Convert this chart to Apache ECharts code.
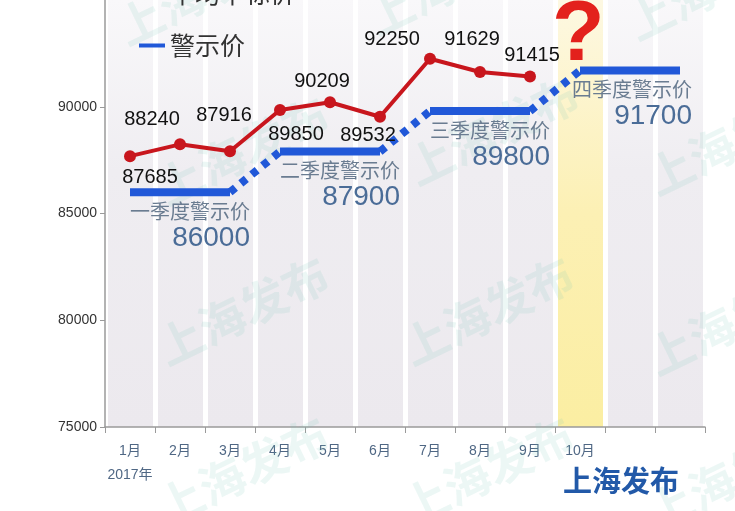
<!DOCTYPE html>
<html>
<head>
<meta charset="utf-8">
<script src="https://cdn.jsdelivr.net/npm/echarts@6/dist/echarts.min.js"></script>
<style>
  html, body { margin: 0; padding: 0; background: #fff; }
  #chart { width: 735px; height: 511px; }
</style>
</head>
<body>
<div id="chart"></div>
<script>
// 月份（横轴），11、12月只占位不显示
const months = ['1月', '2月', '3月', '4月', '5月', '6月', '7月', '8月', '9月', '10月', '11月', '12月'];
const shownMonths = 10;

// 平均中标价（1-9月）
const avgPrice = [87685, 88240, 87916, 89850, 90209, 89532, 92250, 91629, 91415];

// 季度警示价
const quarterNames = ['一季度警示价', '二季度警示价', '三季度警示价', '四季度警示价'];
const warnPrice = [86000, 87900, 89800, 91700];

// 纵轴刻度
const yMin = 75000;
const yMax = 95000;
const yStep = 5000;

// 每个点的标签摆放（只管位置）
const avgLabelPos = [
    { position: 'bottom', offset: [20, 0] },
    { position: 'top', offset: [-28, -4] },
    { position: 'top', distance: 20, offset: [-6, 0] },
    { position: 'bottom', offset: [16, 4] },
    { position: 'top', offset: [-8, 0] },
    { position: 'bottom', distance: 3, offset: [-12, 0] },
    { position: 'top', offset: [-38, 2] },
    { position: 'top', distance: 16, offset: [-8, 0] },
    { position: 'top', offset: [2, 0] }
];
const quarterLabelOffset = [[10, 0], [10, 0], [10, 0], [2, 0]];

const FONT = '"Liberation Sans", "Noto Sans CJK SC", sans-serif';
const CJK = '"Noto Sans CJK SC", sans-serif';

/**
 * 背景竖条颜色（10月为黄色高亮）
 */
function bandColors() {
    return months.map((m, i) => new echarts.graphic.LinearGradient(0, 0, 0, 1, i === 9 ? [
        { offset: 0, color: '#fdf8e2' },
        { offset: 0.5, color: '#fcf0b4' },
        { offset: 1, color: '#fbeea2' }
    ] : [
        { offset: 0, color: '#f9f8fa' },
        { offset: 0.4, color: '#efedf1' },
        { offset: 1, color: '#ece9ee' }
    ]));
}

/**
 * 警示价：每季度一段实线 + 季度间点线
 */
function buildWarnSeries() {
    const list = [];
    warnPrice.forEach((v, q) => {
        const data = months.map((m, i) => (Math.floor(i / 3) === q ? v : null));
        const mid = q * 3 + 1;
        // 中间点挂一个透明标记，用来放季度标签
        data[mid] = {
            value: v,
            symbol: 'circle',
            symbolSize: 2,
            itemStyle: { color: 'rgba(0,0,0,0)' },
            label: {
                show: true,
                position: 'bottom',
                distance: 6,
                offset: quarterLabelOffset[q],
                formatter: '{t|' + quarterNames[q] + '}\n{v|' + v + '}',
                rich: {
                    t: { fontFamily: CJK, fontSize: 20, color: '#6a7c91', lineHeight: 24, align: 'right' },
                    v: { fontFamily: FONT, fontSize: 28, color: '#4a6c97', lineHeight: 30, align: 'right' }
                }
            }
        };
        list.push({
            name: '警示价',
            type: 'line',
            data: data,
            symbol: 'none',
            showSymbol: true,
            z: 3,
            lineStyle: { color: '#2158d8', width: 8, cap: 'butt' },
            itemStyle: { color: '#2158d8' }
        });
    });

    // 季度之间的虚线连接
    const link = months.map(() => null);
    for (let q = 0; q < warnPrice.length - 1; q++) {
        link[q * 3 + 2] = warnPrice[q];
        link[q * 3 + 3] = warnPrice[q + 1];
    }
    list.push({
        name: '警示价',
        type: 'line',
        data: link,
        symbol: 'none',
        z: 3,
        lineStyle: { color: '#2158d8', width: 8, type: [7, 7], cap: 'butt' }
    });
    return list;
}

// 水印
const watermarkPos = [
    [110, 10], [360, 0], [620, 5],
    [150, 170], [400, 150], [640, 160],
    [150, 330], [395, 330], [640, 340],
    [150, 490], [395, 490], [640, 495]
];

const chart = echarts.init(document.getElementById('chart'));

const option = {
    animation: false,
    grid: { left: 105, right: 30, top: -1, bottom: 84 },
    legend: {
        orient: 'vertical',
        left: 134,
        top: -24,
        itemGap: 27,
        itemWidth: 26,
        itemHeight: 4,
        icon: 'rect',
        textStyle: { fontFamily: CJK, fontSize: 25, color: '#333' },
        data: ['平均中标价', '警示价']
    },
    graphic: [
        ...watermarkPos.map(p => ({
            type: 'text',
            x: p[0],
            y: p[1],
            rotation: 0.45,
            z: 1,
            silent: true,
            style: {
                text: '上海发布',
                fontFamily: CJK,
                fontWeight: 'bold',
                fontSize: 46,
                fill: 'rgba(120, 200, 185, 0.14)'
            }
        })),
        {
            type: 'text',
            x: 552,
            y: -7,
            z: 10,
            style: {
                text: '?',
                fontFamily: FONT,
                fontWeight: 'bold',
                fontSize: 86,
                fill: '#e3211c'
            }
        },
        {
            type: 'text',
            left: 563,
            top: 466,
            z: 10,
            style: {
                text: '上海发布',
                fontFamily: CJK,
                fontWeight: 'bold',
                fontSize: 29,
                fill: '#2259a8'
            }
        }
    ],
    xAxis: {
        type: 'category',
        data: months,
        boundaryGap: true,
        axisLine: { lineStyle: { color: '#9a9a9a', width: 1.5 } },
        axisTick: { show: true, interval: 0, length: 6, lineStyle: { color: '#9a9a9a' } },
        axisLabel: {
            interval: 0,
            margin: 12,
            fontFamily: FONT,
            fontSize: 14,
            color: '#4f6784',
            lineHeight: 24,
            formatter: (val, idx) => {
                if (idx >= shownMonths) return '';
                return idx === 0 ? val + '\n2017年' : val;
            }
        },
        splitLine: { show: true, interval: 0, lineStyle: { color: '#ffffff', width: 5 } },
        splitArea: { show: true, interval: 0, areaStyle: { color: bandColors() } }
    },
    yAxis: {
        type: 'value',
        min: yMin,
        max: yMax,
        interval: yStep,
        axisLine: { show: true, lineStyle: { color: '#9a9a9a', width: 1.5 } },
        axisTick: { show: true, length: 5, lineStyle: { color: '#9a9a9a' } },
        axisLabel: {
            fontFamily: FONT,
            fontSize: 14,
            color: '#333',
            margin: 8,
            showMaxLabel: false,
            formatter: v => String(v)
        },
        splitLine: { show: false }
    },
    series: [
        {
            name: '平均中标价',
            type: 'line',
            data: avgPrice.map((v, i) => ({ value: v, label: avgLabelPos[i] })),
            symbol: 'circle',
            symbolSize: 12,
            z: 4,
            lineStyle: { color: '#c8161d', width: 4 },
            itemStyle: { color: '#c8161d' },
            label: {
                show: true,
                fontFamily: FONT,
                fontSize: 20,
                color: '#111'
            }
        },
        ...buildWarnSeries()
    ]
};

chart.setOption(option);
window.addEventListener('resize', () => chart.resize());
</script>
</body>
</html>
